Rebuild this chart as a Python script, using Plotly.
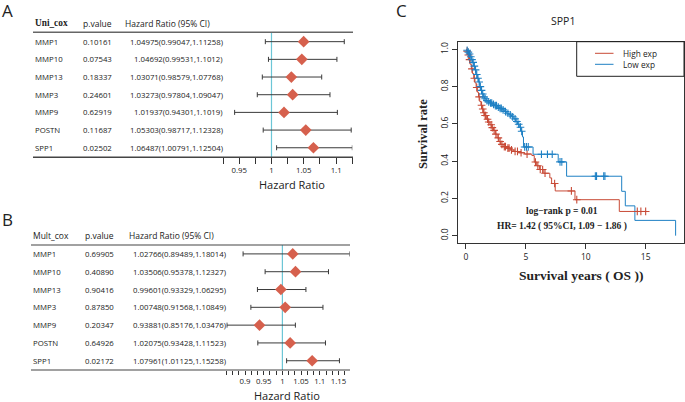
import plotly.graph_objects as go

W, H = 685, 402

# ---------------- data ----------------
genes = ["MMP1", "MMP10", "MMP13", "MMP3", "MMP9", "POSTN", "SPP1"]

uni_p = ["0.10161", "0.07543", "0.18337", "0.24601", "0.62919", "0.11687", "0.02502"]
uni_hr = [1.04975, 1.04692, 1.03071, 1.03273, 1.01937, 1.05303, 1.06487]
uni_lo = [0.99047, 0.99531, 0.98579, 0.97804, 0.94301, 0.98717, 1.00791]
uni_hi = [1.11258, 1.1012, 1.07768, 1.09047, 1.1019, 1.12328, 1.12504]
uni_txt = ["1.04975(0.99047,1.11258)", "1.04692(0.99531,1.1012)", "1.03071(0.98579,1.07768)",
           "1.03273(0.97804,1.09047)", "1.01937(0.94301,1.1019)", "1.05303(0.98717,1.12328)",
           "1.06487(1.00791,1.12504)"]

mult_p = ["0.69905", "0.40890", "0.90416", "0.87850", "0.20347", "0.64926", "0.02172"]
mult_hr = [1.02766, 1.03506, 0.99601, 1.00748, 0.93881, 1.02075, 1.07961]
mult_lo = [0.89489, 0.95378, 0.93329, 0.91568, 0.85176, 0.93428, 1.01125]
mult_hi = [1.18014, 1.12327, 1.06295, 1.10849, 1.03476, 1.11523, 1.15258]
mult_txt = ["1.02766(0.89489,1.18014)", "1.03506(0.95378,1.12327)", "0.99601(0.93329,1.06295)",
            "1.00748(0.91568,1.10849)", "0.93881(0.85176,1.03476)", "1.02075(0.93428,1.11523)",
            "1.07961(1.01125,1.15258)"]

uni_ticks = [0.95, 1, 1.05, 1.1]
uni_ticktext = ["0.95", "1", "1.05", "1.1"]
mult_ticks = [0.9, 0.95, 1, 1.05, 1.1, 1.15]
mult_ticktext = ["0.9", "0.95", "1", "1.05", "1.1", "1.15"]

# Kaplan-Meier: Low exp (blue)
low_t = [0, 0.05, 0.15, 0.25, 0.35, 0.45, 0.55, 0.65, 0.75, 0.85, 0.95, 1.05, 1.15, 1.25, 1.35,
         1.45, 1.55, 1.7, 1.85, 2.0, 2.2, 2.4, 2.6, 2.8, 3.0, 3.2, 3.4, 3.6, 3.8, 4.0, 4.15, 4.3,
         4.45, 4.6, 4.72, 4.8, 5.6, 7.7, 8.4, 13.0, 13.3, 14.1, 17.5]
low_s = [1.0, 0.995, 0.985, 0.975, 0.96, 0.945, 0.93, 0.91, 0.89, 0.865, 0.845, 0.825, 0.80, 0.78,
         0.76, 0.745, 0.735, 0.725, 0.718, 0.712, 0.705, 0.698, 0.69, 0.683, 0.675, 0.666, 0.657,
         0.648, 0.638, 0.627, 0.613, 0.598, 0.582, 0.56, 0.53, 0.476, 0.437, 0.396, 0.319, 0.238,
         0.16, 0.082, 0.0]
low_cens = [0.1, 0.2, 0.3, 0.4, 0.5, 0.6, 0.7, 0.8, 0.9, 1.0, 1.1, 1.2, 1.3, 1.4, 1.5, 1.6, 1.75,
            1.9, 2.05, 2.15, 2.3, 2.45, 2.55, 2.7, 2.85, 2.95, 3.1, 3.3, 3.5, 3.7, 3.9, 4.1, 4.25,
            4.4, 4.55, 4.65, 4.9, 5.05, 5.2, 6.3, 6.8, 7.2, 7.85, 8.0, 10.8, 10.9, 11.5, 11.6]

# Kaplan-Meier: High exp (red)
high_t = [0, 0.05, 0.15, 0.25, 0.35, 0.45, 0.55, 0.65, 0.75, 0.85, 0.95, 1.05, 1.15, 1.25, 1.35,
          1.45, 1.55, 1.7, 1.85, 2.0, 2.15, 2.3, 2.45, 2.6, 2.75, 2.9, 3.1, 3.4, 3.7, 4.0, 4.4,
          4.9, 5.5, 5.7, 5.9, 6.15, 6.5, 7.0, 7.15, 7.45, 9.1, 12.8, 15.08]
high_s = [1.0, 0.99, 0.97, 0.945, 0.92, 0.895, 0.87, 0.845, 0.82, 0.795, 0.77, 0.745, 0.72, 0.70,
          0.68, 0.66, 0.645, 0.625, 0.61, 0.595, 0.58, 0.565, 0.545, 0.525, 0.505, 0.49, 0.478,
          0.47, 0.46, 0.452, 0.445, 0.438, 0.43, 0.395, 0.375, 0.355, 0.335, 0.31, 0.28, 0.24,
          0.193, 0.13, 0.13]
high_cens = [0.1, 0.2, 0.3, 0.5, 0.7, 0.9, 1.1, 1.3, 1.4, 1.5, 1.6, 1.65, 1.8, 1.9, 2.1, 2.2,
             2.35, 2.5, 2.7, 2.85, 3.0, 3.2, 3.3, 3.5, 3.6, 3.8, 4.1, 4.3, 4.6, 5.1, 5.8, 6.0,
             6.2, 6.4, 6.6, 7.4, 8.8, 9.25, 14.3, 14.6, 15.0]

km_xticks = [0, 5, 10, 15]
km_yticks = [0, 0.2, 0.4, 0.6, 0.8, 1.0]

# ---------------- helpers ----------------
def px(x):
    return x / W

def py(y):
    return 1 - y / H

def step_at(ts, ss, t):
    v = ss[0]
    for a, b in zip(ts, ss):
        if a <= t:
            v = b
    return v

SANS = "Open Sans"
SERIF = "Liberation Serif"
RED = "#c84a36"
BLUE = "#1e80c4"
DIAM = "#d6604d"
VLINE = "#6cc6d6"
TS = 7.8

fig = go.Figure()

rows = list(range(len(genes)))

# Forest A
fig.add_trace(go.Scatter(
    x=uni_hr, y=rows, mode="markers", xaxis="x", yaxis="y",
    marker=dict(symbol="diamond", size=9, color=DIAM),
    error_x=dict(type="data", symmetric=False,
                 array=[h - m for h, m in zip(uni_hi, uni_hr)],
                 arrayminus=[m - l for m, l in zip(uni_hr, uni_lo)],
                 color="#3a3a3a", thickness=1, width=2.5),
    showlegend=False, hoverinfo="skip"))

# Forest B
fig.add_trace(go.Scatter(
    x=mult_hr, y=rows, mode="markers", xaxis="x2", yaxis="y2",
    marker=dict(symbol="diamond", size=9, color=DIAM),
    error_x=dict(type="data", symmetric=False,
                 array=[h - m for h, m in zip(mult_hi, mult_hr)],
                 arrayminus=[m - l for m, l in zip(mult_hr, mult_lo)],
                 color="#3a3a3a", thickness=1, width=2.5),
    showlegend=False, hoverinfo="skip"))

# KM curves
fig.add_trace(go.Scatter(x=high_t, y=high_s, mode="lines", line=dict(color=RED, width=1, shape="hv"),
                         xaxis="x3", yaxis="y3", showlegend=False, hoverinfo="skip"))
fig.add_trace(go.Scatter(x=low_t, y=low_s, mode="lines", line=dict(color=BLUE, width=1, shape="hv"),
                         xaxis="x3", yaxis="y3", showlegend=False, hoverinfo="skip"))
fig.add_trace(go.Scatter(x=high_cens, y=[step_at(high_t, high_s, t) for t in high_cens], mode="markers",
                         marker=dict(symbol="cross-thin", size=5.5, line=dict(color=RED, width=1.1)),
                         xaxis="x3", yaxis="y3", showlegend=False, hoverinfo="skip"))
fig.add_trace(go.Scatter(x=low_cens, y=[step_at(low_t, low_s, t) for t in low_cens], mode="markers",
                         marker=dict(symbol="cross-thin", size=5.5, line=dict(color=BLUE, width=1.1)),
                         xaxis="x3", yaxis="y3", showlegend=False, hoverinfo="skip"))

shapes = []
ann = []

def text(x, y, s, size=TS, font=SANS, anchor="left", color="#222", yref="paper", bold=False, angle=0):
    ann.append(dict(x=px(x), y=(y if yref != "paper" else py(y)), xref="paper", yref=yref,
                    text=("<b>%s</b>" % s if bold else s), showarrow=False, xanchor=anchor,
                    yanchor="middle", textangle=angle,
                    font=dict(family=font, size=size, color=color)))

# ---- Panel A ----
text(8, 10, "A", size=17, anchor="center")
text(33, 23.3, "Uni_cox", size=9.3, font=SERIF, bold=True)
text(80.7, 23.3, "p.value", size=8.5)
text(123.3, 23.3, "Hazard Ratio (95% CI)", size=8.5)
shapes.append(dict(type="line", xref="paper", yref="paper", x0=px(33), x1=px(353),
                   y0=py(32.3), y1=py(32.3), line=dict(color="#666", width=1.4)))
shapes.append(dict(type="line", xref="paper", yref="paper", x0=px(33), x1=px(353),
                   y0=py(157.3), y1=py(157.3), line=dict(color="#444", width=1.4)))
shapes.append(dict(type="line", xref="x", yref="paper", x0=1, x1=1, layer="below",
                   y0=py(157.3), y1=py(32.3), line=dict(color=VLINE, width=1.2)))
for i, g in enumerate(genes):
    text(33, i, g, yref="y")
    text(80.7, i, uni_p[i], yref="y")
    text(225.3, i, uni_txt[i], yref="y", anchor="right")
text(291.7, 185, "Hazard Ratio", size=11, anchor="center")

# ---- Panel B ----
text(8, 220, "B", size=17, anchor="center")
text(31, 235.7, "Mult_cox", size=8.5)
text(83.3, 235.7, "p.value", size=8.5)
text(127, 235.7, "Hazard Ratio (95% CI)", size=8.5)
shapes.append(dict(type="line", xref="paper", yref="paper", x0=px(31), x1=px(350),
                   y0=py(245), y1=py(245), line=dict(color="#444", width=1.2)))
shapes.append(dict(type="line", xref="paper", yref="paper", x0=px(31), x1=px(350),
                   y0=py(370), y1=py(370), line=dict(color="#444", width=1.2)))
shapes.append(dict(type="line", xref="x2", yref="paper", x0=1, x1=1, layer="below",
                   y0=py(370), y1=py(245), line=dict(color=VLINE, width=1.2)))
for i, g in enumerate(genes):
    text(31, i, g, yref="y2")
    text(83.3, i, mult_p[i], yref="y2")
    text(228.3, i, mult_txt[i], yref="y2", anchor="right")
text(286.7, 395.5, "Hazard Ratio", size=11, anchor="center")

# ---- Panel C ----
text(401.7, 10, "C", size=17, anchor="center")
text(563, 20.7, "SPP1", size=10.5, anchor="center")
text(581.7, 275, "Survival years ( OS ))", size=13.5, font=SERIF, anchor="center", bold=True)
text(423, 134, "Survival rate", size=12.5, font=SERIF, anchor="center", angle=-90, bold=True)
text(561.7, 211.3, "log−rank p = 0.01", size=9.5, font=SERIF, anchor="center", bold=True)
text(561.7, 226, "HR= 1.42 ( 95%CI, 1.09 − 1.86 )", size=9.5, font=SERIF, anchor="center", bold=True)
# legend box
shapes.append(dict(type="rect", xref="paper", yref="paper", x0=px(576.7), x1=px(684),
                   y0=py(76.3), y1=py(41.7), line=dict(color="#222", width=1)))
shapes.append(dict(type="line", xref="paper", yref="paper", x0=px(595), x1=px(613.5),
                   y0=py(53.3), y1=py(53.3), line=dict(color=RED, width=1)))
shapes.append(dict(type="line", xref="paper", yref="paper", x0=px(595), x1=px(613.5),
                   y0=py(64.3), y1=py(64.3), line=dict(color=BLUE, width=1)))
text(620.5, 53.3, "High exp", size=8.3)
text(620.5, 64.3, "Low exp", size=8.3)

fig.update_layout(
    width=W, height=H, margin=dict(l=0, r=0, t=0, b=0),
    paper_bgcolor="white", plot_bgcolor="rgba(0,0,0,0)",
    shapes=shapes, annotations=ann,
    xaxis=dict(domain=[px(223), px(352.3)], range=[0.925, 1.125], anchor="y",
               tickvals=uni_ticks, ticktext=uni_ticktext, ticks="outside", ticklen=5.5,
               tickcolor="#333", tickwidth=1, showgrid=False, zeroline=False, showline=False,
               minor=dict(tick0=0.925, dtick=0.025, ticks="outside", ticklen=5.5, tickcolor="#333", showgrid=False),
               tickfont=dict(family=SANS, size=7.8, color="#222")),
    yaxis=dict(domain=[py(157.3), py(32.3)], range=[6.54, -0.53], visible=False, anchor="x"),
    xaxis2=dict(domain=[px(226.3), px(349.7)], range=[0.85, 1.18], anchor="y2",
                tickvals=mult_ticks, ticktext=mult_ticktext, ticks="outside", ticklen=4,
                tickcolor="#333", tickwidth=1, showgrid=False, zeroline=False, showline=False,
                minor=dict(tick0=0.85, dtick=0.05 / 3, ticks="outside", ticklen=4, tickcolor="#333", showgrid=False),
                tickfont=dict(family=SANS, size=7.8, color="#222")),
    yaxis2=dict(domain=[py(370), py(245)], range=[6.52, -0.5], visible=False, anchor="x2"),
    xaxis3=dict(domain=[px(457.7), px(684)], range=[-0.69, 18.2], anchor="y3",
                tickvals=km_xticks, ticks="outside", ticklen=5, tickcolor="#333",
                showline=True, mirror=True, linecolor="#333", linewidth=1,
                showgrid=False, zeroline=False,
                tickfont=dict(family=SANS, size=8.5, color="#222")),
    yaxis3=dict(domain=[py(243.3), py(41.7)], range=[-0.041, 1.041], anchor="x3",
                tickvals=km_yticks, ticktext=["0.0", "0.2", "0.4", "0.6", "0.8", "1.0"],
                ticks="outside", ticklen=5, tickcolor="#333", tickangle=-90,
                showline=True, mirror=True, linecolor="#333", linewidth=1,
                showgrid=False, zeroline=False,
                tickfont=dict(family=SANS, size=8.5, color="#222")),
)

fig.write_html("out.html", config={"displayModeBar": False},
               post_script="document.body.style.margin='0';document.body.style.overflow='hidden';")
